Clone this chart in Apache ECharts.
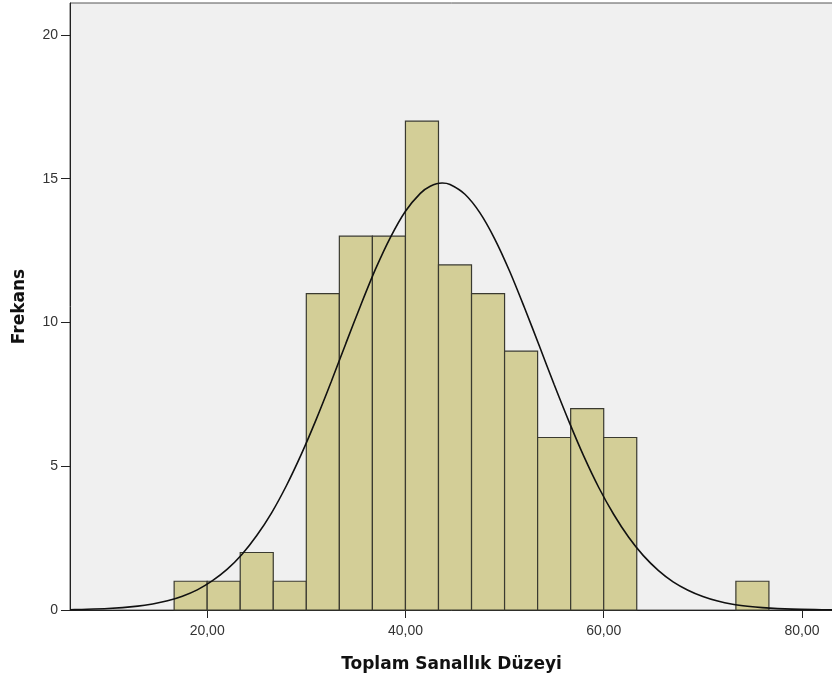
<!DOCTYPE html>
<html>
<head>
<meta charset="utf-8">
<script src="https://cdn.jsdelivr.net/npm/echarts@6/dist/echarts.min.js"></script>
<style>html,body{margin:0;padding:0;background:#fff}#c{width:832px;height:680px}</style>
</head>
<body>
<div id="c"></div>
<script>
// Histogram bins (left edges) and counts
const binStarts = [16.667, 20, 23.333, 26.667, 30, 33.333, 36.667, 40, 43.333, 46.667, 50, 53.333, 56.667, 60, 73.333];
const binWidth = 3.333;
const counts = [1, 1, 2, 1, 11, 13, 13, 17, 12, 11, 9, 6, 7, 6, 1];
// Normal curve points
const curveX = [6.16, 7, 10, 13, 14.5, 16, 17.5, 19, 20.5, 22, 23.5, 25, 26.5, 28, 29.5, 31, 32.5, 34, 35.5, 37, 38.5, 40, 41.5, 42.5, 43.7, 44.5, 46, 47.5, 49, 50.5, 52, 53.5, 55, 56.5, 58, 59.5, 61, 62.5, 64, 65.5, 67, 68.5, 70, 71.5, 73, 74.5, 76, 79, 82, 83.13];
const curveY = [0.01, 0.018, 0.051, 0.134, 0.21, 0.32, 0.48, 0.70, 1.01, 1.41, 1.93, 2.59, 3.38, 4.33, 5.42, 6.63, 7.93, 9.28, 10.61, 11.87, 12.97, 13.87, 14.49, 14.74, 14.85, 14.80, 14.46, 13.82, 12.91, 11.79, 10.52, 9.19, 7.84, 6.55, 5.34, 4.26, 3.33, 2.54, 1.89, 1.38, 0.98, 0.69, 0.47, 0.31, 0.20, 0.129, 0.081, 0.029, 0.01, 0.007];
const xTicks = [20, 40, 60, 80];
const yTicks = [0, 5, 10, 15, 20];

const chart = echarts.init(document.getElementById('c'), null, {renderer: 'canvas'});
const barData = binStarts.map((s, i) => [s, s + binWidth, counts[i]]);
const font = 'Liberation Sans, Arial, sans-serif';
const titleFont = 'DejaVu Sans, sans-serif';
chart.setOption({
  animation: false,
  backgroundColor: '#ffffff',
  grid: {left: 70, right: -1, top: 3, bottom: 70, outerBoundsMode: 'none', containLabel: false,
    show: true, backgroundColor: '#f0f0f0', borderColor: '#555', borderWidth: 1},
  xAxis: {
    type: 'value', min: 6.162, max: 83.13,
    name: 'Toplam Sanallık Düzeyi', nameLocation: 'middle', nameGap: 46,
    nameTextStyle: {fontFamily: titleFont, fontWeight: 'bold', fontSize: 17, color: '#111'},
    axisLine: {show: true, onZero: false, lineStyle: {color: '#222', width: 1}},
    axisTick: {show: true, length: 8, lineStyle: {color: '#222'}, customValues: xTicks},
    axisLabel: {fontFamily: font, fontSize: 14, color: '#333', margin: 14, customValues: xTicks,
      formatter: v => v.toFixed(2).replace('.', ',')},
    splitLine: {show: false}
  },
  yAxis: {
    type: 'value', min: 0, max: 21.11,
    name: 'Frekans', nameLocation: 'middle', nameGap: 42, nameRotate: 90,
    nameTextStyle: {fontFamily: titleFont, fontWeight: 'bold', fontSize: 17, color: '#111'},
    axisLine: {show: true, lineStyle: {color: '#222', width: 1}},
    axisTick: {show: true, length: 9, lineStyle: {color: '#222'}, customValues: yTicks},
    axisLabel: {fontFamily: font, fontSize: 14, color: '#333', margin: 12, customValues: yTicks},
    splitLine: {show: false}
  },
  series: [
    {
      type: 'custom',
      data: barData,
      encode: {x: [0, 1], y: 2},
      renderItem: function (params, api) {
        const p0 = api.coord([api.value(0), 0]);
        const p1 = api.coord([api.value(1), api.value(2)]);
        return {
          type: 'rect',
          shape: {x: p0[0], y: p1[1], width: p1[0] - p0[0], height: p0[1] - p1[1]},
          style: {fill: '#d3ce97', stroke: '#3a3a30', lineWidth: 1.2}
        };
      },
      z: 2
    },
    {
      type: 'line',
      data: curveX.map((x, i) => [x, curveY[i]]),
      smooth: 0.3,
      showSymbol: false,
      lineStyle: {color: '#111', width: 1.6},
      z: 3
    }
  ]
});
</script>
</body>
</html>
